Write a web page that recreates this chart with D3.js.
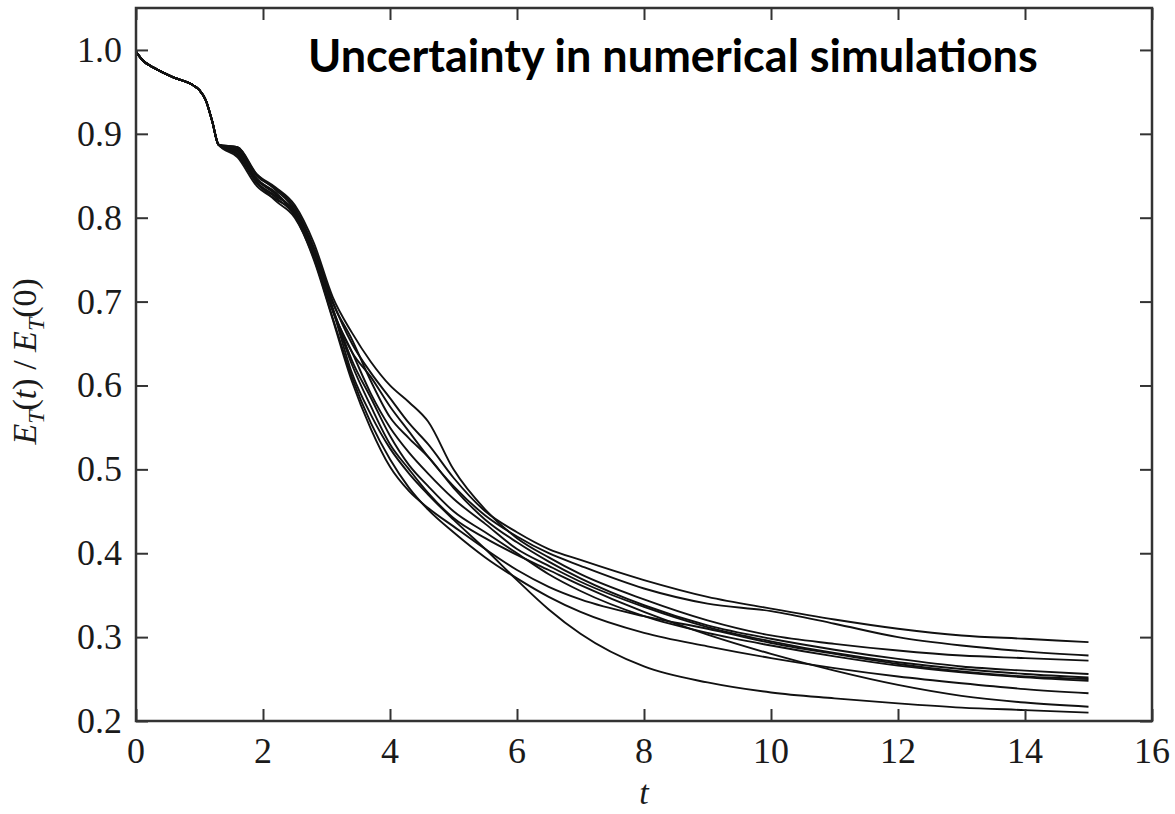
<!DOCTYPE html>
<html>
<head>
<meta charset="utf-8">
<script src="https://cdn.jsdelivr.net/npm/d3@7"></script>
<style>
  html, body { margin: 0; padding: 0; background: #fff; }
  svg { display: block; }
  .tick-label { font-family: "Liberation Serif", "DejaVu Serif", serif; font-size: 36px; fill: #1a1a1a; }
  .axis-title { font-family: "Liberation Serif", "DejaVu Serif", serif; font-size: 34px; fill: #1a1a1a; }
  .run { fill: none; stroke: #111; stroke-width: 1.9; stroke-linejoin: round; }
</style>
</head>
<body>
<svg id="chart"></svg>
<script>
// shared start, identical for every run
const prefixT = [0, 0.1, 0.3, 0.6, 0.9, 1.0, 1.1, 1.2];
const prefixE = [0.998, 0.988, 0.978, 0.967, 0.958, 0.952, 0.940, 0.915];

// sample times after the runs split
const times = [1.3, 1.6, 1.9, 2.2, 2.5, 2.8, 3.1, 3.4, 3.7, 4.0, 4.3, 4.6, 5.0, 5.5, 6.0, 6.5, 7.0, 8.0, 9.0, 10, 11, 12, 13, 14, 15];

// E_T(t)/E_T(0) for each simulation run
const run1  = [0.887, 0.884, 0.850, 0.835, 0.812, 0.765, 0.700, 0.650, 0.615, 0.585, 0.555, 0.530, 0.490, 0.450, 0.425, 0.405, 0.392, 0.368, 0.348, 0.334, 0.321, 0.310, 0.302, 0.298, 0.294];
const run2  = [0.887, 0.876, 0.845, 0.828, 0.806, 0.758, 0.690, 0.640, 0.610, 0.575, 0.545, 0.515, 0.480, 0.445, 0.420, 0.400, 0.385, 0.358, 0.340, 0.331, 0.316, 0.300, 0.290, 0.283, 0.278];
const run3  = [0.887, 0.882, 0.852, 0.836, 0.815, 0.770, 0.705, 0.663, 0.628, 0.600, 0.580, 0.557, 0.500, 0.452, 0.418, 0.395, 0.375, 0.345, 0.320, 0.302, 0.292, 0.284, 0.278, 0.275, 0.272];
const run4  = [0.887, 0.874, 0.842, 0.826, 0.808, 0.762, 0.698, 0.655, 0.605, 0.562, 0.537, 0.515, 0.478, 0.440, 0.413, 0.390, 0.370, 0.338, 0.314, 0.298, 0.285, 0.274, 0.265, 0.260, 0.256];
const run5  = [0.887, 0.880, 0.846, 0.830, 0.803, 0.755, 0.688, 0.640, 0.590, 0.550, 0.520, 0.495, 0.465, 0.435, 0.405, 0.385, 0.366, 0.336, 0.312, 0.295, 0.281, 0.270, 0.262, 0.256, 0.252];
const run6  = [0.887, 0.872, 0.838, 0.822, 0.806, 0.760, 0.692, 0.630, 0.585, 0.540, 0.505, 0.480, 0.450, 0.425, 0.400, 0.375, 0.355, 0.325, 0.305, 0.290, 0.277, 0.266, 0.258, 0.252, 0.248];
const run7  = [0.887, 0.884, 0.852, 0.833, 0.809, 0.757, 0.690, 0.625, 0.575, 0.530, 0.500, 0.472, 0.442, 0.418, 0.398, 0.380, 0.362, 0.330, 0.303, 0.280, 0.260, 0.243, 0.230, 0.222, 0.217];
const run8  = [0.887, 0.879, 0.843, 0.820, 0.800, 0.752, 0.680, 0.610, 0.555, 0.512, 0.478, 0.452, 0.425, 0.395, 0.370, 0.348, 0.330, 0.305, 0.289, 0.275, 0.263, 0.253, 0.245, 0.238, 0.233];
const run9  = [0.887, 0.881, 0.847, 0.829, 0.805, 0.758, 0.690, 0.615, 0.565, 0.525, 0.495, 0.470, 0.440, 0.405, 0.368, 0.333, 0.304, 0.265, 0.246, 0.234, 0.227, 0.221, 0.216, 0.213, 0.210];
const run10 = [0.887, 0.877, 0.841, 0.824, 0.802, 0.750, 0.678, 0.605, 0.548, 0.503, 0.474, 0.454, 0.432, 0.405, 0.380, 0.360, 0.345, 0.325, 0.310, 0.293, 0.280, 0.268, 0.259, 0.253, 0.250];
const runs = [run1, run2, run3, run4, run5, run6, run7, run8, run9, run10];

const xTicks = [0, 2, 4, 6, 8, 10, 12, 14, 16];
const yTicks = [0.2, 0.3, 0.4, 0.5, 0.6, 0.7, 0.8, 0.9, 1.0];
const titleText = "Uncertainty in numerical simulations";

const width = 1175, height = 814;
const margin = { top: 8, right: 23, bottom: 93, left: 136 };
const tickLen = 12;

const svg = d3.select("#chart").attr("width", width).attr("height", height);

const x = d3.scaleLinear().domain([0, 16]).range([margin.left, width - margin.right]);
const y = d3.scaleLinear().domain([0.2, 1.05]).range([height - margin.bottom, margin.top]);

// curves
const line = d3.line()
    .x(d => x(d[0]))
    .y(d => y(d[1]))
    .curve(d3.curveMonotoneX);

const prefix = prefixT.map((t, i) => [t, prefixE[i]]);
svg.append("g")
    .selectAll("path")
    .data(runs)
    .enter().append("path")
    .attr("class", "run")
    .attr("d", r => line(prefix.concat(times.map((t, i) => [t, r[i]]))));

// axes: ticks pointing inward on all four sides
const axisG = svg.append("g").attr("class", "axes");
const frameStyle = g => g.call(g => g.select(".domain").remove())
    .call(g => g.selectAll(".tick line").attr("stroke", "#333").attr("stroke-width", 2))
    .call(g => g.selectAll(".tick text").remove());

axisG.append("g")
    .attr("transform", `translate(0,${y(0.2)})`)
    .call(d3.axisBottom(x).tickValues(xTicks).tickSize(-tickLen))
    .call(frameStyle);
axisG.append("g")
    .attr("transform", `translate(0,${y(1.05)})`)
    .call(d3.axisTop(x).tickValues(xTicks).tickSize(-tickLen))
    .call(frameStyle);
axisG.append("g")
    .attr("transform", `translate(${x(0)},0)`)
    .call(d3.axisLeft(y).tickValues(yTicks).tickSize(-tickLen))
    .call(frameStyle);
axisG.append("g")
    .attr("transform", `translate(${x(16)},0)`)
    .call(d3.axisRight(y).tickValues(yTicks).tickSize(-tickLen))
    .call(frameStyle);

// frame
svg.append("rect")
    .attr("x", x(0)).attr("y", y(1.05))
    .attr("width", x(16) - x(0)).attr("height", y(0.2) - y(1.05))
    .attr("fill", "none").attr("stroke", "#333").attr("stroke-width", 2.5);

// tick labels
svg.append("g").selectAll("text")
    .data(xTicks)
    .enter().append("text")
    .attr("class", "tick-label")
    .attr("x", d => x(d)).attr("y", y(0.2) + 42)
    .attr("text-anchor", "middle")
    .text(d => d);

svg.append("g").selectAll("text")
    .data(yTicks)
    .enter().append("text")
    .attr("class", "tick-label")
    .attr("x", x(0) - 14).attr("y", d => y(d) + 12)
    .attr("text-anchor", "end")
    .text(d => d3.format(".1f")(d));

// axis titles
svg.append("text")
    .attr("class", "axis-title")
    .attr("x", x(8)).attr("y", 804)
    .attr("text-anchor", "middle")
    .attr("font-style", "italic")
    .text("t");

const yTitle = svg.append("text")
    .attr("class", "axis-title")
    .attr("transform", `translate(36,${y(0.5) - 108}) rotate(-90)`)
    .attr("text-anchor", "middle");
yTitle.append("tspan").attr("font-style", "italic").text("E");
yTitle.append("tspan").attr("font-style", "italic").attr("font-size", 24).attr("dy", 8).text("T");
yTitle.append("tspan").attr("dy", -8).text("(");
yTitle.append("tspan").attr("font-style", "italic").text("t");
yTitle.append("tspan").text(") / ");
yTitle.append("tspan").attr("font-style", "italic").text("E");
yTitle.append("tspan").attr("font-style", "italic").attr("font-size", 24).attr("dy", 8).text("T");
yTitle.append("tspan").attr("dy", -8).text("(0)");

// chart title, sized to span the same width as the original
const title = svg.append("text")
    .attr("x", 308).attr("y", 72)
    .attr("font-family", "Lato, 'Open Sans', sans-serif")
    .attr("font-weight", 700)
    .attr("font-size", 40)
    .attr("fill", "#000")
    .text(titleText);
const w = title.node().getComputedTextLength();
title.attr("font-size", 40 * 730 / w);
</script>
</body>
</html>
